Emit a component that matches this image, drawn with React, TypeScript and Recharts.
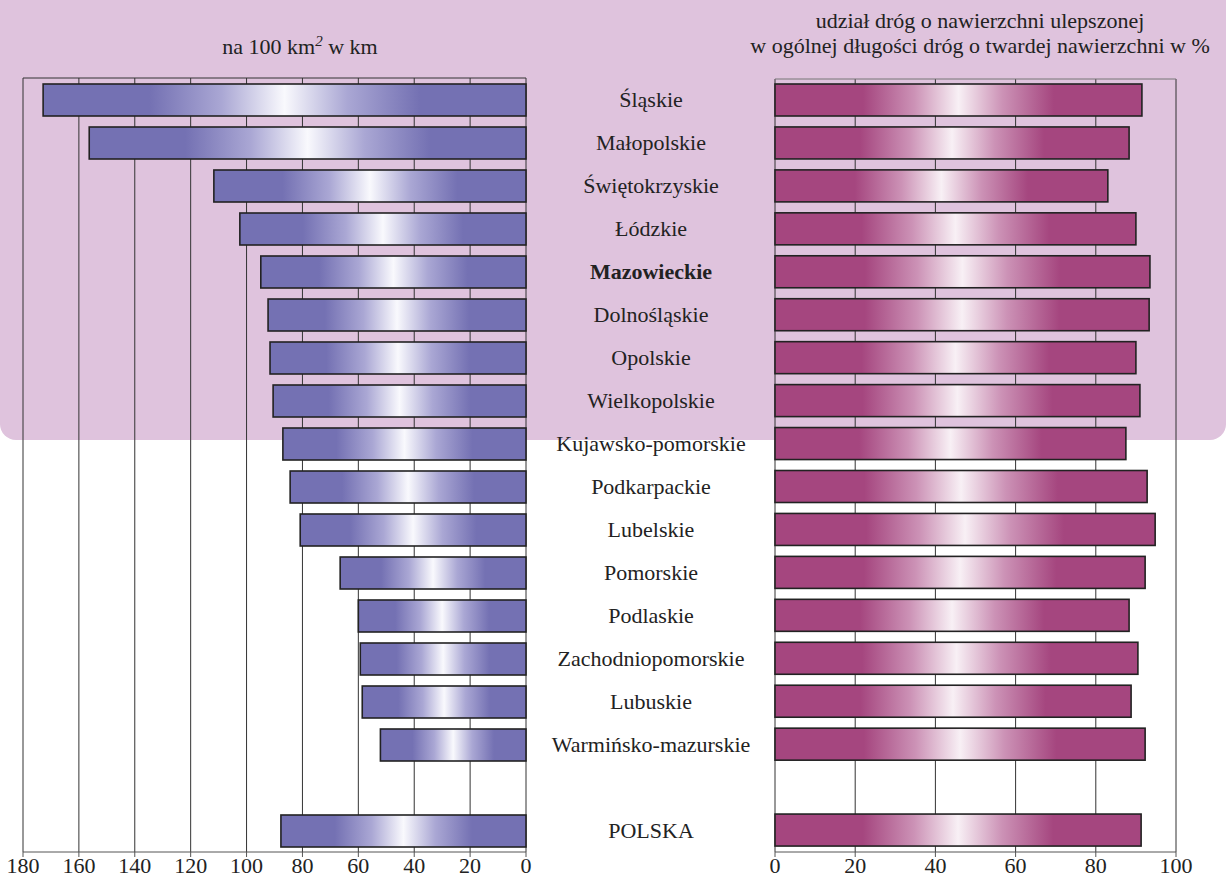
import { BarChart, Bar, XAxis, YAxis, CartesianGrid } from "recharts"

const regions = [
  "Śląskie",
  "Małopolskie",
  "Świętokrzyskie",
  "Łódzkie",
  "Mazowieckie",
  "Dolnośląskie",
  "Opolskie",
  "Wielkopolskie",
  "Kujawsko-pomorskie",
  "Podkarpackie",
  "Lubelskie",
  "Pomorskie",
  "Podlaskie",
  "Zachodniopomorskie",
  "Lubuskie",
  "Warmińsko-mazurskie",
  "",
  "POLSKA",
]

// gęstość dróg na 100 km2 w km
const density = [172.8, 156.3, 111.7, 102.4, 94.9, 92.3, 91.6, 90.5, 87, 84.4, 80.8, 66.5, 60, 59.3, 58.6, 52.1, null, 87.7]

// udział dróg o nawierzchni ulepszonej w %
const improved = [91.5, 88.3, 83, 90, 93.5, 93.3, 90, 91, 87.5, 92.8, 94.8, 92.3, 88.3, 90.5, 88.8, 92.3, null, 91.3]

const leftTicks = [0, 20, 40, 60, 80, 100, 120, 140, 160, 180]
const rightTicks = [0, 20, 40, 60, 80, 100]

const data = regions.map((name, i) => ({ name, density: density[i], improved: improved[i] }))

const FONT = "Liberation Serif, DejaVu Serif, serif"

const GradBar = (props: any) => {
  const { x, y, width, height, fill } = props
  if (!width || !height) return null
  const x0 = width < 0 ? x + width : x
  const w = Math.abs(width)
  return <rect x={x0} y={y} width={w} height={height} fill={fill} stroke="#222" strokeWidth={1.6} />
}

const RegionTick = (props: any) => {
  const { y, payload } = props
  const bold = payload.value === "Mazowieckie"
  return (
    <text
      x={651}
      y={y}
      dy={7}
      textAnchor="middle"
      style={{ fontFamily: FONT }}
      fontSize={22}
      fontWeight={bold ? "bold" : "normal"}
      fill="#222"
    >
      {payload.value}
    </text>
  )
}

const tickStyle = { fontFamily: FONT, fontSize: 22, fill: "#222" }

export default function App() {
  return (
    <div
      style={{
        position: "absolute",
        left: 0,
        top: 0,
        width: 1226,
        height: 884,
        background: "#fff",
        overflow: "hidden",
        fontFamily: FONT,
      }}
    >
      <div
        style={{
          position: "absolute",
          left: 0,
          top: 0,
          width: 1226,
          height: 440,
          background: "#dfc3dd",
          borderRadius: "0 0 16px 16px",
        }}
      />
      <div style={{ position: "absolute", left: 0, top: 33, width: 600, textAlign: "center", fontSize: 22, color: "#222" }}>
        na 100 km<sup style={{ fontSize: 15, fontStyle: "italic" }}>2</sup> w km
      </div>
      <div
        style={{
          position: "absolute",
          left: 730,
          top: 8,
          width: 500,
          textAlign: "center",
          fontSize: 22,
          lineHeight: "25px",
          color: "#222",
        }}
      >
        udział dróg o nawierzchni ulepszonej
        <br />
        w ogólnej długości dróg o twardej nawierzchni w %
      </div>

      <div style={{ position: "absolute", left: 0, top: 0 }}>
        <BarChart
          width={780}
          height={884}
          data={data}
          layout="vertical"
          margin={{ top: 78, right: 0, bottom: 0, left: 23 }}
          barCategoryGap={0}
        >
          <defs>
            <linearGradient id="gradPurple" x1="0" y1="0" x2="1" y2="0">
              <stop offset="0" stopColor="#7471b3" />
              <stop offset="0.22" stopColor="#7471b3" />
              <stop offset="0.37" stopColor="#aaa7d4" />
              <stop offset="0.5" stopColor="#f9f9fd" />
              <stop offset="0.63" stopColor="#aaa7d4" />
              <stop offset="0.78" stopColor="#7471b3" />
              <stop offset="1" stopColor="#7471b3" />
            </linearGradient>
          </defs>
          <CartesianGrid horizontal={false} stroke="#333" strokeWidth={1} />
          <CartesianGrid vertical={false} horizontalPoints={[78]} stroke="#333" strokeWidth={1} />
          <XAxis
            type="number"
            dataKey="density"
            domain={[0, 180]}
            ticks={leftTicks}
            reversed
            height={32}
            tickSize={5}
            tickMargin={0}
            interval={0}
            axisLine={{ stroke: "#555" }}
            tickLine={{ stroke: "#555" }}
            tick={tickStyle}
          />
          <YAxis
            type="category"
            dataKey="name"
            orientation="right"
            width={254}
            axisLine={false}
            tickLine={false}
            interval={0}
            tick={<RegionTick />}
          />
          <Bar dataKey="density" fill="url(#gradPurple)" barSize={32} shape={<GradBar />} isAnimationActive={false} />
        </BarChart>
      </div>

      <div style={{ position: "absolute", left: 760, top: 0 }}>
        <BarChart
          width={466}
          height={884}
          data={data}
          layout="vertical"
          margin={{ top: 79, right: 50, bottom: 0, left: 15 }}
          barCategoryGap={0}
        >
          <defs>
            <linearGradient id="gradPink" x1="0" y1="0" x2="1" y2="0">
              <stop offset="0" stopColor="#a5467f" />
              <stop offset="0.24" stopColor="#a5467f" />
              <stop offset="0.38" stopColor="#cc92b6" />
              <stop offset="0.5" stopColor="#f8f0f5" />
              <stop offset="0.62" stopColor="#cc92b6" />
              <stop offset="0.76" stopColor="#a5467f" />
              <stop offset="1" stopColor="#a5467f" />
            </linearGradient>
          </defs>
          <CartesianGrid horizontal={false} stroke="#333" strokeWidth={1} />
          <CartesianGrid vertical={false} horizontalPoints={[79]} stroke="#777" strokeWidth={1} />
          <XAxis
            type="number"
            dataKey="improved"
            domain={[0, 100]}
            ticks={rightTicks}
            height={32}
            tickSize={5}
            tickMargin={0}
            interval={0}
            axisLine={{ stroke: "#555" }}
            tickLine={{ stroke: "#555" }}
            tick={tickStyle}
          />
          <YAxis type="category" dataKey="name" hide />
          <Bar dataKey="improved" fill="url(#gradPink)" barSize={32} shape={<GradBar />} isAnimationActive={false} />
        </BarChart>
      </div>
    </div>
  )
}
